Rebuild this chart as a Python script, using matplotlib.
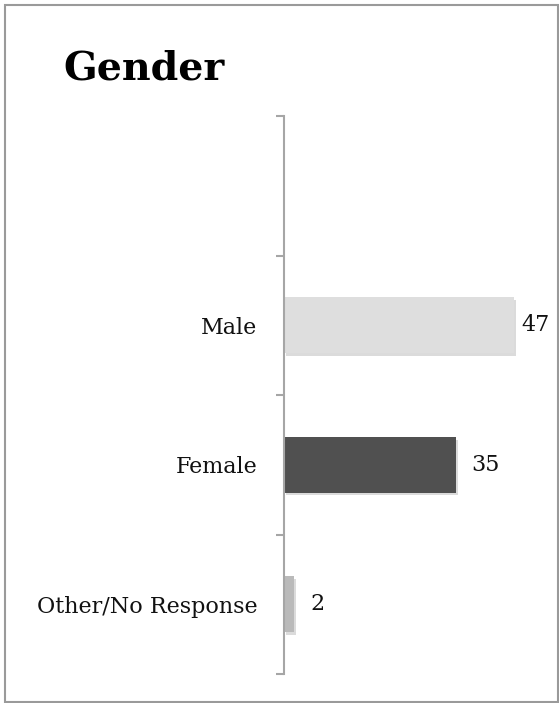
import matplotlib
matplotlib.use("Agg")
import matplotlib.pyplot as plt
import matplotlib.patheffects as pe
from matplotlib.patches import Rectangle

# Survey responses by gender (bottom to top); the topmost slot is left empty
categories = ["Other/No Response", "Female", "Male", ""]
counts = [2, 35, 47, None]
bar_colors = ["#bababa", "#505050", "#dedede", None]
label_offsets = [17, 16, 7, None]  # pixels between bar end and its value

serif = ["DejaVu Serif"]

W, H = 559, 703
fig = plt.figure(figsize=(W / 100, H / 100), dpi=100)

# Outer frame of the chart
fig.patches.append(Rectangle((4.5 / W, 1 - 701.5 / H), 553 / W, 697 / H,
                             transform=fig.transFigure, fill=False,
                             edgecolor="#9a9a9a", linewidth=1.5))

ax = fig.add_axes([284 / W, 1 - 674 / H, (548.6 - 284) / W, (674 - 116) / H])
ax.set_xlim(0, 54)
ax.set_ylim(-0.5, len(categories) - 0.5)

shadow = [pe.SimplePatchShadow(offset=(1.5, -2), shadow_rgbFace="#999999", alpha=0.35),
          pe.Normal()]

for i, (val, col) in enumerate(zip(counts, bar_colors)):
    if val is None:
        continue
    bar = ax.barh(i, val, height=0.4, color=col, edgecolor="none")[0]
    bar.set_path_effects(shadow)
    ax.annotate(str(val), xy=(val, i), xytext=(label_offsets[i] * 0.72, 0),
                textcoords="offset points", va="center", ha="left",
                fontsize=16, family=serif, color="#111111")

# Category boundaries as major ticks, names centred as minor tick labels
ax.set_yticks([k - 0.5 for k in range(len(categories) + 1)])
ax.set_yticklabels([])
ax.set_yticks(range(len(categories)), minor=True)
ax.set_yticklabels(categories, minor=True, fontsize=16, family=serif, color="#111111")
ax.tick_params(axis="y", which="major", length=6, width=1.5, color="#a6a6a6", direction="out")
ax.tick_params(axis="y", which="minor", length=0, pad=19)
ax.set_xticks([])

for side in ["top", "right", "bottom"]:
    ax.spines[side].set_visible(False)
ax.spines["left"].set_color("#a6a6a6")
ax.spines["left"].set_linewidth(1.5)

fig.text(63 / W, 1 - 80 / H, "Gender", fontsize=28.5, fontweight="bold",
         family=serif, ha="left", va="baseline", color="#000000")

fig.savefig("out.png", dpi=100)
